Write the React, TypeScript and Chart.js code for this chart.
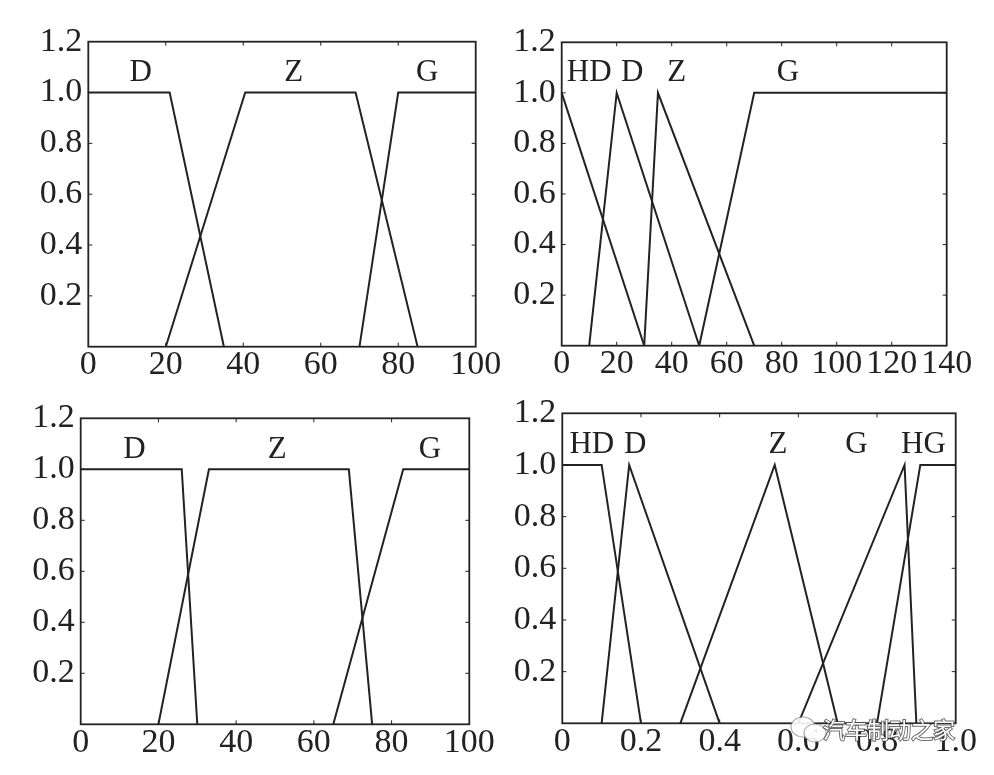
import React, { useEffect, useRef } from 'react';
import { Chart, registerables } from 'chart.js';

Chart.register(...registerables);

const FONT = "'Liberation Serif', 'Times New Roman', serif";
const INK = '#222222';

// ---------- Panel 1 (top-left) ----------
const p1Names = ['D', 'Z', 'G'];
const p1LabelX = [13.5, 53, 87.5];
const p1D_x = [0, 21, 35];
const p1D_y = [1, 1, 0];
const p1Z_x = [20, 40.5, 69, 85];
const p1Z_y = [0, 1, 1, 0];
const p1G_x = [70, 80, 100];
const p1G_y = [0, 1, 1];

// ---------- Panel 2 (top-right) ----------
const p2Names = ['HD', 'D', 'Z', 'G'];
const p2LabelX = [10, 25.6, 41.8, 82.3];
const p2HD_x = [0, 30];
const p2HD_y = [1, 0];
const p2D_x = [10, 20, 50];
const p2D_y = [0, 1, 0];
const p2Z_x = [30, 35, 70];
const p2Z_y = [0, 1, 0];
const p2G_x = [50, 70, 140];
const p2G_y = [0, 1, 1];

// ---------- Panel 3 (bottom-left) ----------
const p3Names = ['D', 'Z', 'G'];
const p3LabelX = [13.8, 50.6, 89.9];
const p3D_x = [0, 26, 30];
const p3D_y = [1, 1, 0];
const p3Z_x = [20, 33, 69, 75];
const p3Z_y = [0, 1, 1, 0];
const p3G_x = [65, 83, 100];
const p3G_y = [0, 1, 1];

// ---------- Panel 4 (bottom-right) ----------
const p4Names = ['HD', 'D', 'Z', 'G', 'HG'];
const p4LabelX = [0.075, 0.185, 0.548, 0.748, 0.918];
const p4HD_x = [0, 0.1, 0.2];
const p4HD_y = [1, 1, 0];
const p4D_x = [0.1, 0.17, 0.4];
const p4D_y = [0, 1, 0];
const p4Z_x = [0.3, 0.54, 0.7];
const p4Z_y = [0, 1, 0];
const p4G_x = [0.6, 0.87, 0.9];
const p4G_y = [0, 1, 0];
const p4HG_x = [0.8, 0.91, 1.0];
const p4HG_y = [0, 1, 1];

const yMax = 1.2;
const yStep = 0.2;
const labelLevel = 1.078;
const watermarkText = '汽车制动之家';

type Series = { x: number[]; y: number[] };
type Spec = {
  left: number; top: number; w: number; h: number;
  plotL: number; plotR: number; plotT: number; plotB: number;
  xMax: number; xStep: number;
  series: Series[];
  names: string[]; labelX: number[];
  watermark?: boolean;
};

const specs: Spec[] = [
  {
    left: 0, top: 0, w: 520, h: 390,
    plotL: 88.3, plotR: 475.7, plotT: 41.7, plotB: 346.7,
    xMax: 100, xStep: 20,
    series: [{ x: p1D_x, y: p1D_y }, { x: p1Z_x, y: p1Z_y }, { x: p1G_x, y: p1G_y }],
    names: p1Names, labelX: p1LabelX,
  },
  {
    left: 500, top: 0, w: 494, h: 390,
    plotL: 61.7, plotR: 446.7, plotT: 42.3, plotB: 345.7,
    xMax: 140, xStep: 20,
    series: [{ x: p2HD_x, y: p2HD_y }, { x: p2D_x, y: p2D_y }, { x: p2Z_x, y: p2Z_y }, { x: p2G_x, y: p2G_y }],
    names: p2Names, labelX: p2LabelX,
  },
  {
    left: 0, top: 390, w: 520, h: 385,
    plotL: 80.7, plotR: 469.3, plotT: 28.3, plotB: 334.3,
    xMax: 100, xStep: 20,
    series: [{ x: p3D_x, y: p3D_y }, { x: p3Z_x, y: p3Z_y }, { x: p3G_x, y: p3G_y }],
    names: p3Names, labelX: p3LabelX,
  },
  {
    left: 500, top: 390, w: 494, h: 385,
    plotL: 62.3, plotR: 455.7, plotT: 23.3, plotB: 333.3,
    xMax: 1, xStep: 0.2,
    series: [
      { x: p4HD_x, y: p4HD_y }, { x: p4D_x, y: p4D_y }, { x: p4Z_x, y: p4Z_y },
      { x: p4G_x, y: p4G_y }, { x: p4HG_x, y: p4HG_y },
    ],
    names: p4Names, labelX: p4LabelX,
    watermark: true,
  },
];

function Panel({ spec }: { spec: Spec }) {
  const ref = useRef<HTMLCanvasElement>(null);
  useEffect(() => {
    const canvas = ref.current!;
    const framePlugin = {
      id: 'frameTicks',
      afterDatasetsDraw(chart: any) {
        const { ctx, chartArea: a, scales } = chart;
        ctx.save();
        ctx.strokeStyle = INK;
        ctx.lineWidth = 1.8;
        ctx.strokeRect(a.left, a.top, a.right - a.left, a.bottom - a.top);
        ctx.lineWidth = 1;
        const tl = 4;
        scales.x.ticks.forEach((t: any) => {
          const px = scales.x.getPixelForValue(t.value);
          if (px <= a.left + 1 || px >= a.right - 1) return;
          ctx.beginPath();
          ctx.moveTo(px, a.bottom); ctx.lineTo(px, a.bottom - tl);
          ctx.moveTo(px, a.top); ctx.lineTo(px, a.top + tl);
          ctx.stroke();
        });
        scales.y.ticks.forEach((t: any) => {
          const py = scales.y.getPixelForValue(t.value);
          if (py <= a.top + 1 || py >= a.bottom - 1) return;
          ctx.beginPath();
          ctx.moveTo(a.left, py); ctx.lineTo(a.left + tl, py);
          ctx.moveTo(a.right, py); ctx.lineTo(a.right - tl, py);
          ctx.stroke();
        });
        ctx.restore();
      },
      afterDraw(chart: any) {
        const { ctx, scales } = chart;
        ctx.save();
        ctx.fillStyle = INK;
        ctx.font = `31px ${FONT}`;
        ctx.textAlign = 'center';
        ctx.textBaseline = 'middle';
        spec.names.forEach((n, i) => {
          ctx.fillText(n, scales.x.getPixelForValue(spec.labelX[i]), scales.y.getPixelForValue(labelLevel));
        });
        if (spec.watermark) {
          const wx = 323, wy = 340;
          ctx.fillStyle = 'rgba(255,255,255,0.9)';
          ctx.strokeStyle = 'rgba(120,120,120,0.6)';
          ctx.lineWidth = 1.2;
          ctx.beginPath();
          ctx.ellipse(wx - 20, wy - 3, 12, 10, 0, 0, Math.PI * 2);
          ctx.fill(); ctx.stroke();
          ctx.beginPath();
          ctx.ellipse(wx - 8, wy + 3, 11, 9, 0, 0, Math.PI * 2);
          ctx.fill(); ctx.stroke();
          ctx.font = `22px 'Noto Sans CJK SC', sans-serif`;
          ctx.textAlign = 'left';
          ctx.lineWidth = 2;
          ctx.strokeStyle = 'rgba(60,60,60,0.75)';
          ctx.strokeText(watermarkText, wx, wy);
          ctx.fillStyle = '#ffffff';
          ctx.fillText(watermarkText, wx, wy);
        }
        ctx.restore();
      },
    };

    const chart = new Chart(canvas, {
      type: 'line',
      data: {
        datasets: spec.series.map((s) => ({
          data: s.x.map((x, i) => ({ x, y: s.y[i] })),
          borderColor: INK,
          borderWidth: 2,
          pointRadius: 0,
          tension: 0,
          fill: false,
          clip: 4,
        })),
      },
      options: {
        responsive: false,
        animation: false,
        devicePixelRatio: 1,
        layout: {
          padding: { left: 0, top: spec.plotT, right: spec.w - spec.plotR, bottom: 0 },
        },
        plugins: { legend: { display: false }, tooltip: { enabled: false }, title: { display: false } },
        scales: {
          x: {
            type: 'linear',
            min: 0,
            max: spec.xMax,
            grid: { display: false, drawTicks: false },
            border: { display: false },
            ticks: {
              stepSize: spec.xStep,
              color: INK,
              padding: 1.5,
              maxRotation: 0,
              autoSkip: false,
              font: { family: FONT, size: 34, lineHeight: 1 },
              callback: (v: any) => {
                const n = Number(v);
                if (Math.abs(n) < 1e-9) return '0';
                return spec.xMax <= 1 ? n.toFixed(1) : String(Math.round(n));
              },
            },
            afterFit: (s: any) => { s.height = spec.h - spec.plotB; },
          },
          y: {
            type: 'linear',
            min: 0,
            max: yMax,
            grid: { display: false, drawTicks: false },
            border: { display: false },
            ticks: {
              stepSize: yStep,
              color: INK,
              padding: 6,
              autoSkip: false,
              font: { family: FONT, size: 34, lineHeight: 1 },
              callback: (v: any) => {
                const n = Number(v);
                if (Math.abs(n) < 1e-9) return '';
                return n.toFixed(1);
              },
            },
            afterFit: (s: any) => { s.width = spec.plotL; },
          },
        },
      },
      plugins: [framePlugin],
    } as any);
    return () => chart.destroy();
  }, []);
  return (
    <canvas
      ref={ref}
      width={spec.w}
      height={spec.h}
      style={{ position: 'absolute', left: spec.left, top: spec.top, width: spec.w, height: spec.h }}
    />
  );
}

export default function App() {
  return (
    <div style={{ position: 'fixed', left: 0, top: 0, width: 994, height: 775, background: '#ffffff', overflow: 'hidden' }}>
      {specs.map((s, i) => (
        <Panel key={i} spec={s} />
      ))}
    </div>
  );
}
